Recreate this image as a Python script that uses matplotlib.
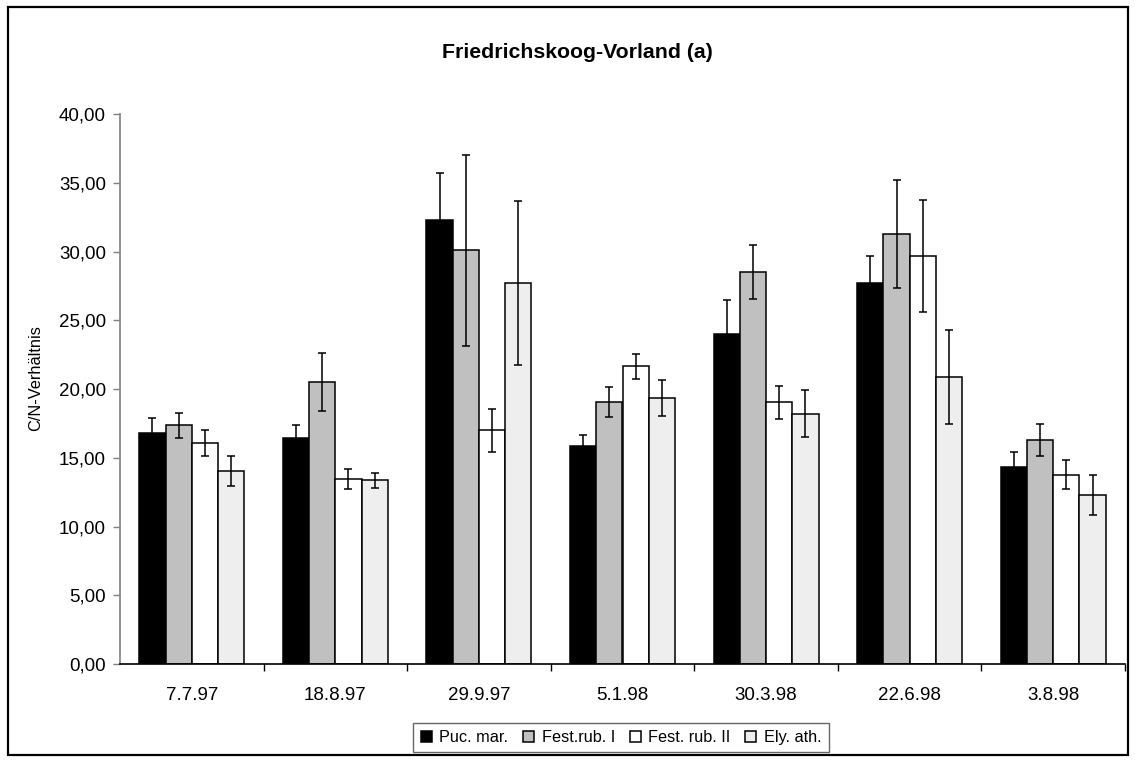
import numpy as np
import matplotlib
matplotlib.use("Agg")
import matplotlib.pyplot as plt
from matplotlib.ticker import FixedLocator, FuncFormatter, NullFormatter
from matplotlib.patches import Rectangle

plt.rcParams['font.family'] = ['Liberation Sans', 'DejaVu Sans']

# data
dates = ["7.7.97", "18.8.97", "29.9.97", "5.1.98", "30.3.98", "22.6.98", "3.8.98"]
species = ["Puc. mar.", "Fest.rub. I", "Fest. rub. II", "Ely. ath."]

puc_mar = [16.82, 16.43, 32.32, 15.85, 23.97, 27.70, 14.32]
fest_rub1 = [17.35, 20.52, 30.09, 19.08, 28.48, 31.26, 16.29]
fest_rub2 = [16.10, 13.43, 16.99, 21.64, 19.05, 29.67, 13.77]
ely_ath = [14.04, 13.35, 27.72, 19.35, 18.21, 20.89, 12.29]

puc_mar_err = [1.06, 0.98, 3.42, 0.81, 2.53, 2.00, 1.08]
fest_rub1_err = [0.90, 2.10, 6.95, 1.08, 1.97, 3.95, 1.14]
fest_rub2_err = [0.95, 0.73, 1.58, 0.92, 1.20, 4.06, 1.06]
ely_ath_err = [1.09, 0.56, 5.95, 1.31, 1.72, 3.42, 1.42]

series = [puc_mar, fest_rub1, fest_rub2, ely_ath]
errors = [puc_mar_err, fest_rub1_err, fest_rub2_err, ely_ath_err]
colors = ["#000000", "#C0C0C0", "#FFFFFF", "#EEEEEE"]

fig = plt.figure(figsize=(11.35, 7.6), dpi=100)
ax = fig.add_axes([120 / 1135, 1 - 664 / 760, 1005 / 1135, 550 / 760])

x = np.arange(len(dates))
w = 0.183
for i, (vals, errs) in enumerate(zip(series, errors)):
    ax.bar(x + (i - 1.5) * w, vals, w, color=colors[i], edgecolor="black",
           linewidth=1.1, label=species[i], zorder=2,
           yerr=errs, error_kw=dict(ecolor="black", elinewidth=1.1,
                                    capsize=3, capthick=1.1))

ax.set_xlim(-0.5, len(dates) - 0.5)
ax.set_ylim(0, 40)
ax.set_yticks(np.arange(0, 41, 5))
ax.yaxis.set_major_formatter(FuncFormatter(lambda v, p: f"{v:.2f}".replace(".", ",")))

# category boundaries as ticks, labels at centers
ax.xaxis.set_major_locator(FixedLocator(np.arange(0.5, len(dates), 1.0)))
ax.xaxis.set_major_formatter(NullFormatter())
ax.xaxis.set_minor_locator(FixedLocator(x))
ax.set_xticklabels(dates, minor=True)
ax.tick_params(axis="x", which="major", length=5, width=1, color="black")
ax.tick_params(axis="x", which="minor", length=0, pad=16.5, labelsize=13.5)
ax.tick_params(axis="y", length=5, width=1, color="#808080", labelsize=13.5, pad=5)

for s in ["top", "right"]:
    ax.spines[s].set_visible(False)
ax.spines["left"].set_color("#808080")
ax.spines["left"].set_linewidth(1.2)
ax.spines["bottom"].set_color("black")
ax.spines["bottom"].set_linewidth(1.2)

ax.set_ylabel("C/N-Verhältnis", fontsize=11.8)
ax.yaxis.set_label_coords((43 - 120) / 1005, (664 - 378) / 550)
fig.text(577 / 1135, 1 - 52 / 760, "Friedrichskoog-Vorland (a)", ha="center",
         va="center", fontsize=15.3, fontweight="bold")

leg = fig.legend(loc="center", bbox_to_anchor=(621 / 1135, 1 - 737.5 / 760),
                 ncol=4, fontsize=11.7, frameon=True, fancybox=False,
                 handlelength=0.7, handleheight=0.7, handletextpad=0.45,
                 columnspacing=0.9, borderpad=0.45, borderaxespad=0)
leg.get_frame().set_edgecolor("#404040")
leg.get_frame().set_linewidth(1.0)

fig.patches.append(Rectangle((8 / 1135, 1 - 755 / 760), 1120 / 1135, 748 / 760,
                             transform=fig.transFigure, fill=False,
                             edgecolor="black", linewidth=1.6))

fig.savefig("out.png", dpi=100)
